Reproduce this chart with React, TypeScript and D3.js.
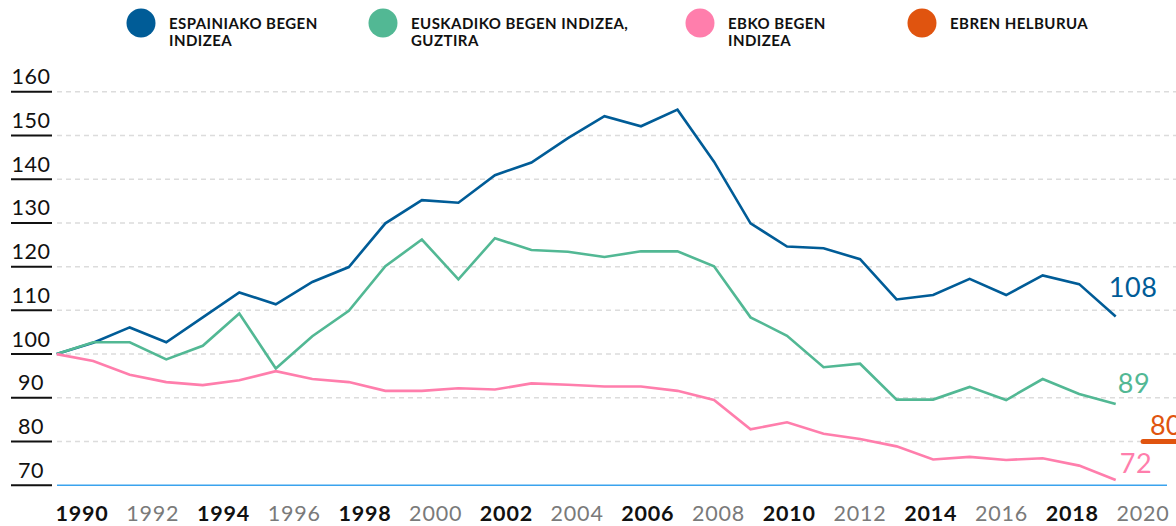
import { useEffect, useRef } from "react";
import * as d3 from "d3";

const YEARS = [
  1990, 1991, 1992, 1993, 1994, 1995, 1996, 1997, 1998, 1999,
  2000, 2001, 2002, 2003, 2004, 2005, 2006, 2007, 2008, 2009,
  2010, 2011, 2012, 2013, 2014, 2015, 2016, 2017, 2018, 2019,
];

const SPAIN = [
  100, 102.6, 106.1, 102.7, 108.4, 114.1, 111.4, 116.5, 119.9, 129.9,
  135.2, 134.6, 140.9, 143.8, 149.4, 154.4, 152.1, 155.9, 144.0, 129.9,
  124.6, 124.2, 121.7, 112.5, 113.5, 117.2, 113.5, 118.0, 116.0, 108.6,
];

const EUSKADI = [
  100, 102.7, 102.7, 98.8, 101.9, 109.3, 96.7, 104.1, 109.9, 120.1,
  126.2, 117.1, 126.5, 123.8, 123.4, 122.2, 123.5, 123.5, 120.1, 108.4,
  104.2, 97.0, 97.8, 89.6, 89.6, 92.5, 89.5, 94.3, 90.9, 88.6,
];

const EU = [
  100, 98.4, 95.3, 93.6, 92.9, 94.0, 96.1, 94.3, 93.6, 91.6,
  91.6, 92.2, 91.9, 93.3, 93.0, 92.6, 92.6, 91.6, 89.5, 82.8,
  84.4, 81.8, 80.6, 78.9, 75.9, 76.5, 75.8, 76.2, 74.5, 71.2,
];

// EU target level, drawn from just before 2020 off the right edge
const TARGET_YEARS = [2019.75, 2030];
const TARGET_VALUES = [80, 80];

const Y_TICKS = [70, 80, 90, 100, 110, 120, 130, 140, 150, 160];
const X_LABELS = [1990, 1992, 1994, 1996, 1998, 2000, 2002, 2004, 2006, 2008, 2010, 2012, 2014, 2016, 2018, 2020];

const SERIES = [
  { key: "spain", values: SPAIN, color: "#005c97", end: "108", dx: -7, dy: -19 },
  { key: "euskadi", values: EUSKADI, color: "#52b894", end: "89", dx: 2, dy: -11 },
  { key: "eu", values: EU, color: "#ff7eac", end: "72", dx: 4, dy: -7 },
];

const LEGEND = [
  { lines: ["ESPAINIAKO BEGEN", "INDIZEA"], color: "#005c97", cx: 141 },
  { lines: ["EUSKADIKO BEGEN INDIZEA,", "GUZTIRA"], color: "#52b894", cx: 383 },
  { lines: ["EBKO BEGEN", "INDIZEA"], color: "#ff7eac", cx: 700 },
  { lines: ["EBREN HELBURUA"], color: "#e0540f", cx: 922 },
];

const W = 1176;
const H = 526;
const FONT = "Lato, 'Noto Sans', sans-serif";

export default function App() {
  const svgRef = useRef<SVGSVGElement>(null);

  useEffect(() => {
    if (!svgRef.current) return;
    const svg = d3.select(svgRef.current);
    svg.selectAll("*").remove();

    const x = d3.scaleLinear().domain([1990, 2019]).range([56.7, 1115.7]);
    const y = d3.scaleLinear().domain([70, 160]).range([485.3, 91.7]);
    const xLabel = d3.scaleLinear().domain([1990, 2020]).range([82, 1143]);

    // gridlines
    svg.append("g")
      .selectAll("line")
      .data(Y_TICKS.filter((t) => t > 70))
      .join("line")
      .attr("x1", 57)
      .attr("x2", W)
      .attr("y1", (d) => y(d))
      .attr("y2", (d) => y(d))
      .attr("stroke", "#dcdcdc")
      .attr("stroke-width", 1.5)
      .attr("stroke-dasharray", "5 4");

    // baseline
    svg.append("line")
      .attr("x1", 57)
      .attr("x2", 1167)
      .attr("y1", y(70))
      .attr("y2", y(70))
      .attr("stroke", "#3aa3ee")
      .attr("stroke-width", 1.5);

    // y labels with underline
    const yt = svg.append("g").selectAll("g").data(Y_TICKS).join("g");
    yt.append("line")
      .attr("x1", 11)
      .attr("x2", 52)
      .attr("y1", (d) => y(d))
      .attr("y2", (d) => y(d))
      .attr("stroke", "#111")
      .attr("stroke-width", 2);
    yt.append("text")
      .attr("x", 31)
      .attr("y", (d) => y(d) - 7.5)
      .attr("text-anchor", "middle")
      .attr("font-family", FONT)
      .attr("font-size", 21.5)
      .attr("letter-spacing", 0.6)
      .attr("fill", "#111")
      .text((d) => d);

    // x labels
    svg.append("g")
      .selectAll("text")
      .data(X_LABELS)
      .join("text")
      .attr("x", (d) => xLabel(d))
      .attr("y", 521)
      .attr("text-anchor", "middle")
      .attr("font-family", FONT)
      .attr("font-size", 21.5)
      .attr("letter-spacing", 0.8)
      .attr("font-weight", (d, i) => (i % 2 === 0 ? 700 : 400))
      .attr("fill", (d, i) => (i % 2 === 0 ? "#111" : "#7a7a7a"))
      .text((d) => d);

    // series lines
    const line = d3
      .line<number>()
      .x((d, i) => x(YEARS[i]))
      .y((d) => y(d));

    SERIES.forEach((s) => {
      svg.append("path")
        .datum(s.values)
        .attr("d", line)
        .attr("fill", "none")
        .attr("stroke", s.color)
        .attr("stroke-width", 2.6)
        .attr("stroke-linejoin", "miter");
      const last = s.values[s.values.length - 1];
      svg.append("text")
        .attr("x", x(YEARS[YEARS.length - 1]) + s.dx)
        .attr("y", y(last) + s.dy)
        .attr("font-family", FONT)
        .attr("font-size", 27)
        .attr("letter-spacing", 0.6)
        .attr("fill", s.color)
        .text(s.end);
    });

    // target
    const tLine = d3
      .line<number>()
      .x((d, i) => x(TARGET_YEARS[i]))
      .y((d) => y(d));
    svg.append("path")
      .datum(TARGET_VALUES)
      .attr("d", tLine)
      .attr("fill", "none")
      .attr("stroke", "#e0540f")
      .attr("stroke-width", 5)
      .attr("stroke-linecap", "round");
    svg.append("text")
      .attr("x", 1150)
      .attr("y", y(80) - 7)
      .attr("font-family", FONT)
      .attr("font-size", 27)
      .attr("fill", "#e0540f")
      .text("80");

    // legend
    const lg = svg.append("g").selectAll("g").data(LEGEND).join("g");
    lg.append("circle")
      .attr("cx", (d) => d.cx)
      .attr("cy", 23)
      .attr("r", 14.5)
      .attr("fill", (d) => d.color);
    lg.each(function (d) {
      const t = d3.select(this).append("text")
        .attr("font-family", FONT)
        .attr("font-size", 15)
        .attr("font-weight", 700)
        .attr("letter-spacing", 0.45)
        .attr("fill", "#111");
      d.lines.forEach((ln, i) => {
        t.append("tspan")
          .attr("x", d.cx + 28)
          .attr("y", 29 + i * 17)
          .text(ln);
      });
    });
  }, []);

  return (
    <svg
      ref={svgRef}
      width={W}
      height={H}
      style={{ position: "absolute", left: 0, top: 0, background: "#fff" }}
    />
  );
}
